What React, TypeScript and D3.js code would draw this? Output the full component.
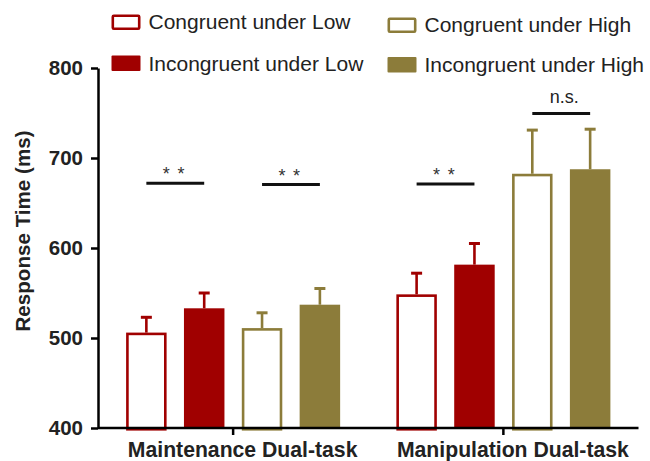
import { useEffect, useRef } from "react";
import * as d3 from "d3";

const groups = ["Maintenance Dual-task", "Manipulation Dual-task"];
const conditions = ["Congruent under Low", "Incongruent under Low", "Congruent under High", "Incongruent under High"];
const meanRT = [
  [506, 533, 511, 537],
  [548.5, 581.5, 682.5, 687.5],
];
const semRT = [
  [17, 17, 17, 18],
  [23.5, 23.5, 48.5, 44.5],
];
const yTicks = [400, 500, 600, 700, 800];
const sigGroup = [0, 0, 1, 1];
const sigFirst = [0, 2, 0, 2];
const sigLevel = [272, 270.5, 271, 349.5].map((d) => d + 400);
const sigLabel = ["* *", "* *", "* *", "n.s."];

const RED = "#a00000";
const OLIVE = "#8c7c3a";
const condColor = [RED, RED, OLIVE, OLIVE];
const condFilled = [false, true, false, true];

const App = () => {
  const width = 650;
  const height = 461;
  const marginLeft = 98;
  const marginRight = 11.5;
  const marginTop = 68;
  const bottomY = 428;
  const font = "'Liberation Sans', Arial, sans-serif";

  const gx = useRef<SVGGElement>(null);
  const gy = useRef<SVGGElement>(null);

  const x0 = d3.scaleBand().domain(groups).range([marginLeft, width - marginRight]);
  const x1 = d3.scaleBand().domain(conditions).range([0, x0.bandwidth()]).paddingInner(0.3).paddingOuter(0.486);
  const y = d3.scaleLinear().domain([400, 800]).range([bottomY, marginTop]);

  useEffect(() => {
    const g = d3.select(gx.current);
    g.call(d3.axisBottom(x0).tickSize(7).tickFormat(() => ""));
    g.select(".domain").attr("stroke-width", 2.5).attr("d", `M${marginLeft},0H${width - marginRight}`);
    g.selectAll(".tick line").attr("stroke-width", 2.5);
  }, [x0]);

  useEffect(() => {
    const g = d3.select(gy.current);
    g.call(d3.axisLeft(y).tickValues(yTicks).tickSize(7).tickPadding(8).tickSizeOuter(0));
    g.select(".domain").attr("stroke-width", 2.5);
    g.selectAll(".tick line").attr("stroke-width", 2.5);
    g.selectAll(".tick text")
      .attr("font-size", 20.5)
      .attr("font-weight", "bold")
      .attr("font-family", font)
      .attr("fill", "#222");
  }, [y]);

  // legend layout: [x, rect top, text baseline]
  const legendPos = [
    [111.5, 14.5, 28.5],
    [111.5, 55.5, 71],
    [387.5, 17.5, 31.5],
    [387.5, 57, 71.5],
  ];

  return (
    <svg width={width} height={height} style={{ position: "absolute", left: 0, top: 0, fontFamily: font }}>
      {/* legend */}
      {conditions.map((c, i) => {
        const [lx, ly, lb] = legendPos[i];
        return (
          <g key={c}>
            {condFilled[i] ? (
              <rect x={lx} y={ly} width={29} height={15.5} rx={1} fill={condColor[i]} />
            ) : (
              <rect x={lx + 1.3} y={ly + 1.3} width={26.4} height={12.9} rx={1} fill="white" stroke={condColor[i]} strokeWidth={2.6} />
            )}
            <text x={lx + 37} y={lb} fontSize={21} fill="#222">{c}</text>
          </g>
        );
      })}

      {/* bars */}
      {groups.map((g, gi) => (
        <g key={g} transform={`translate(${x0(g)},0)`}>
          {conditions.map((c, ci) => {
            const bx = x1(c)!;
            const bw = x1.bandwidth();
            const v = meanRT[gi][ci];
            const top = y(v);
            const errTop = y(v + semRT[gi][ci]);
            const cx = bx + bw / 2;
            const col = condColor[ci];
            return (
              <g key={c}>
                <line x1={cx} x2={cx} y1={top} y2={errTop} stroke={col} strokeWidth={2.6} />
                <line x1={cx - 5.5} x2={cx + 5.5} y1={errTop} y2={errTop} stroke={col} strokeWidth={3} />
                {condFilled[ci] ? (
                  <rect x={bx} y={top} width={bw} height={bottomY - top} fill={col} />
                ) : (
                  <rect x={bx + 1.3} y={top + 1.3} width={bw - 2.6} height={bottomY - top} fill="white" stroke={col} strokeWidth={2.6} />
                )}
              </g>
            );
          })}
        </g>
      ))}

      {/* significance markers */}
      {sigLabel.map((lab, i) => {
        const g = groups[sigGroup[i]];
        const a = x0(g)! + x1(conditions[sigFirst[i]])! + x1.bandwidth() / 2;
        const b = x0(g)! + x1(conditions[sigFirst[i] + 1])! + x1.bandwidth() / 2;
        const mid = (a + b) / 2;
        const half = (b - a) / 2;
        const ly = y(sigLevel[i]);
        const isNs = lab === "n.s.";
        return (
          <g key={i}>
            <line x1={mid - half} x2={mid + half} y1={ly} y2={ly} stroke="#111" strokeWidth={3} />
            {isNs ? (
              <text x={mid + 3} y={ly - 10} textAnchor="middle" fontSize={18} fill="#222">{lab}</text>
            ) : (
              <text x={mid - 1} y={ly - 3} textAnchor="middle" fontSize={18} letterSpacing={1.3} fill="#333">{lab}</text>
            )}
          </g>
        );
      })}

      <g ref={gx} transform={`translate(0,${bottomY})`} />
      <g ref={gy} transform={`translate(${marginLeft},0)`} />

      {/* x category labels */}
      {groups.map((g) => (
        <text key={g} x={x0(g)! + x0.bandwidth() / 2 + 9.5} y={456.5} textAnchor="middle" fontSize={21.2} fontWeight="bold" fill="#222">{g}</text>
      ))}

      {/* y axis title */}
      <text transform={`translate(29.5,231) rotate(-90)`} textAnchor="middle" fontSize={20.6} fontWeight="bold" fill="#222">Response Time (ms)</text>
    </svg>
  );
};

export default App;
